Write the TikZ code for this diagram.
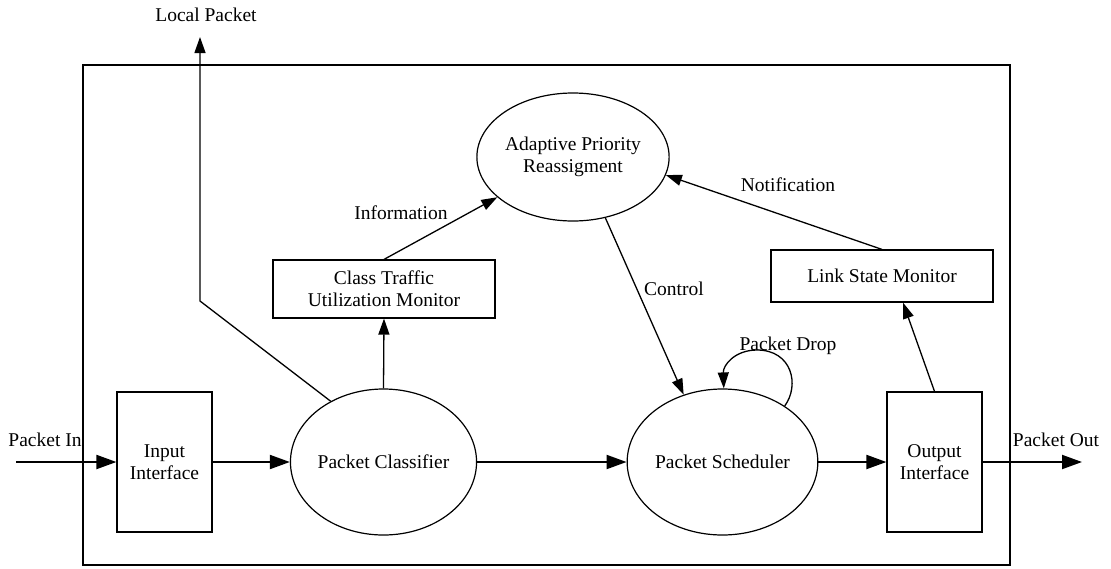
\documentclass[tikz,border=0pt]{standalone}
\usepackage{fontspec}
\setmainfont{Liberation Serif}
\usetikzlibrary{shapes.geometric,arrows.meta,calc}
\begin{document}
\begin{tikzpicture}[x=1pt,y=-1pt,
  txt/.style={font=\fontsize{19.5}{22}\selectfont},
  lbl/.style={txt, inner sep=0pt},
  boxnode/.style={txt, draw, line width=1.2pt, inner sep=0pt, align=center},
  ell/.style={txt, draw, ellipse, line width=1.2pt, inner sep=0pt, align=center},
  flow/.style={-{Triangle[length=20pt,width=14pt]}, line width=2pt},
  arr/.style={-{Triangle[length=16pt,width=11pt]}, line width=1.3pt}
]
\useasboundingbox (0,0) rectangle (1111,568);
\node[draw, line width=1.3pt, minimum width=927pt, minimum height=500pt, inner sep=0pt] (frame) at (546.5,315) {};

\node[boxnode, minimum width=95pt, minimum height=140pt] (inbox) at (164.5,462) {Input\\Interface};
\node[ell, minimum width=181pt, minimum height=146pt] (cls) at (383.5,462) {Packet Classifier};
\node[ell, minimum width=181pt, minimum height=146pt] (sch) at (722.5,462) {Packet Scheduler};
\node[boxnode, minimum width=95pt, minimum height=140pt] (outbox) at (934.5,462) {Output\\Interface};
\node[boxnode, minimum width=222pt, minimum height=58pt] (ctum) at (384,289) {Class Traffic\\Utilization Monitor};
\node[boxnode, minimum width=222pt, minimum height=52pt] (lsm) at (882,276) {Link State Monitor};
\node[ell, minimum width=180pt, minimum height=128pt] (apr) at (573,157) {Adaptive Priority\\Reassigment};

\coordinate (pin) at (16,462);
\coordinate (pout) at (1082,462);
\coordinate (lpb) at (200,301);
\coordinate (lpt) at (200,37);

\draw[flow] (pin) -- (inbox);
\draw[flow] (inbox) -- (cls);
\draw[flow] (cls) -- (sch);
\draw[flow] (sch) -- (outbox);
\draw[flow] (outbox) -- (pout);

\draw[arr] (cls.north) -- (ctum.south);
\draw[arr] (ctum.north) -- (apr.208);
\draw[arr] (lsm.north) -- (apr.349);
\draw[arr] (apr.298) -- (sch.120);
\draw[arr] (outbox.north) -- ([xshift=21pt]lsm.south);
\draw[arr] (cls.131) -- (lpb) -- (lpt);
\draw[arr] (sch.42) .. controls (800,385) and (792,350) .. (757,350) .. controls (735,350) and (723,365) .. (sch.89);

\node[lbl] (lPin) at (45,440) {Packet In};
\node[lbl] (lPout) at (1056,440) {Packet Out};
\node[lbl] (lLocal) at (206,15) {Local Packet};
\node[lbl] (lInfo) at (401,213) {Information};
\node[lbl] (lNotif) at (788,185) {Notification};
\node[lbl] (lCtrl) at (674,289) {Control};
\node[lbl] (lDrop) at (788,346) {Packet Drop};
\end{tikzpicture}
\end{document}
